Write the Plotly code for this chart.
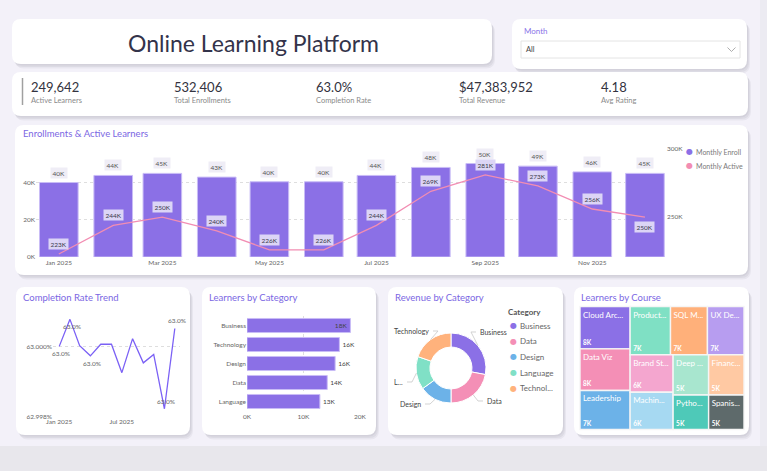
import math
import plotly.graph_objects as go

W, H = 767, 471
FONT = "Lato, 'Segoe UI', sans-serif"

# ---------------- data ----------------
months = ["2025-01-01", "2025-02-01", "2025-03-01", "2025-04-01", "2025-05-01", "2025-06-01",
          "2025-07-01", "2025-08-01", "2025-09-01", "2025-10-01", "2025-11-01", "2025-12-01"]
monthly_enroll = [40000, 43800, 44900, 42900, 40400, 40400, 43800, 48100, 50200, 48800, 45700, 44900]
monthly_active = [223000, 244000, 250000, 240000, 226000, 226000, 244000, 269000, 281000, 273000, 256000, 250000]

completion_rate = [63.0000, 63.00077, 63.00002, 62.99973, 63.00006, 63.00006,
                   62.99925, 63.00022, 62.99953, 62.99977, 62.99822, 63.00051]
completion_labelled = [0, 1, 3, 10, 11]

categories = ["Business", "Technology", "Design", "Data", "Language"]
category_learners = [18300, 16350, 15600, 14200, 12900]

rev_categories = ["Business", "Data", "Design", "Language", "Technology"]
rev_values = [13270000, 10420000, 7110000, 7240000, 9343952]

courses = ["Cloud Arc...", "Data Viz", "Leadership", "Product...", "SQL M...", "UX De...",
           "Brand St...", "Machin...", "Deep ...", "Financ...", "Pytho...", "Spanis..."]
course_learners = [8040, 7890, 7400, 7380, 6750, 6680, 6080, 6070, 5400, 5380, 4640, 4620]

kpi_values = ["249,642", "532,406", "63.0%", "$47,383,952", "4.18"]
kpi_labels = ["Active Learners", "Total Enrollments", "Completion Rate", "Total Revenue", "Avg Rating"]

series_names = ["Monthly Enroll", "Monthly Active"]

# ---------------- styles ----------------
PURPLE = "#8b70e6"
PINK = "#f28db3"
TITLE_PURPLE = "#7b67e3"
rev_colors = ["#8b70e6", "#f48fb6", "#6cb2e8", "#80e0c6", "#ffb27c"]
course_colors = ["#8b70e6", "#f48fb6", "#6cb2e8", "#7fe0c4", "#ffb07a", "#b79df0",
                 "#f4a6cf", "#a6d9f2", "#a8e6cf", "#ffc9a3", "#4ec9b8", "#5e6a6b"]


def fx(x):
    return x / W


def fy(y):
    return 1 - y / H


def P(x, y):
    return f"{fx(x):.5f},{fy(y):.5f}"


def rrect(x0, y0, x1, y1, r):
    return (f"M{P(x0 + r, y0)} L{P(x1 - r, y0)} Q{P(x1, y0)} {P(x1, y0 + r)} "
            f"L{P(x1, y1 - r)} Q{P(x1, y1)} {P(x1 - r, y1)} L{P(x0 + r, y1)} "
            f"Q{P(x0, y1)} {P(x0, y1 - r)} L{P(x0, y0 + r)} Q{P(x0, y0)} {P(x0 + r, y0)} Z")


shapes = []
annotations = []

# page strips
shapes.append(dict(type="rect", xref="paper", yref="paper", x0=0, x1=1, y0=0, y1=fy(446),
                   fillcolor="#e8e7ec", line_width=0, layer="below"))
shapes.append(dict(type="rect", xref="paper", yref="paper", x0=fx(760), x1=1, y0=fy(446), y1=1,
                   fillcolor="#ecebf2", line_width=0, layer="below"))

cards = [(12, 19, 492, 64), (512, 19, 747, 69), (12, 72, 748, 116), (15, 125, 748, 275),
         (16, 287, 190, 435), (202, 287, 376, 435), (388, 287, 563, 435), (574, 287, 749, 435)]
for (x0, y0, x1, y1) in cards:
    for dx, dy, a in [(1, 1.5, 0.06), (2, 3, 0.07), (3, 4.5, 0.06)]:
        shapes.append(dict(type="path", xref="paper", yref="paper",
                           path=rrect(x0 + dx, y0 + dy, x1 + dx, y1 + dy, 9),
                           fillcolor=f"rgba(70,70,90,{a})", line_width=0, layer="below"))
    shapes.append(dict(type="path", xref="paper", yref="paper", path=rrect(x0, y0, x1, y1, 9),
                       fillcolor="white", line_width=0, layer="below"))


def txt(x, y, s, size, color, xanchor="left", yanchor="middle", family=FONT):
    annotations.append(dict(xref="paper", yref="paper", x=fx(x), y=fy(y), text=s, showarrow=False,
                            xanchor=xanchor, yanchor=yanchor,
                            font=dict(size=size, color=color, family=family)))


def dot(x, y, color, size=8):
    txt(x, y, "●", size, color, xanchor="center", family="DejaVu Sans")


# title
txt(253.5, 43, "Online Learning Platform", 23, "#33334a", xanchor="center")
# month slicer
txt(522, 31, "Month", 8, "#8a74e8")
shapes.append(dict(type="rect", xref="paper", yref="paper", x0=fx(521), x1=fx(740), y0=fy(58), y1=fy(41),
                   line=dict(color="#e4e4e4", width=1), fillcolor="white", layer="below"))
txt(524, 50, "All", 7.5, "#444")
shapes.append(dict(type="path", xref="paper", yref="paper",
                   path=f"M{P(727.5, 47.5)} L{P(731.5, 51.5)} L{P(735.5, 47.5)}",
                   line=dict(color="#999", width=0.8)))

# KPIs
shapes.append(dict(type="line", xref="paper", yref="paper", x0=fx(22.5), x1=fx(22.5), y0=fy(105), y1=fy(78),
                   line=dict(color="#a0a0a0", width=1.5)))
for i, (v, l) in enumerate(zip(kpi_values, kpi_labels)):
    x = 29 + i * 142.5
    txt(x, 87, v, 13, "#333340")
    txt(x, 101, l, 7.5, "#8a8a8a")

# card titles
txt(21, 134, "Enrollments & Active Learners", 9.5, TITLE_PURPLE)
txt(21, 297, "Completion Rate Trend", 9.5, TITLE_PURPLE)
txt(207, 297, "Learners by Category", 9.5, TITLE_PURPLE)
txt(393, 297, "Revenue by Category", 9.5, TITLE_PURPLE)
txt(579, 297, "Learners by Course", 9.5, TITLE_PURPLE)

fig = go.Figure()

# ---------------- Enrollments & Active Learners ----------------
DAY = 86400000
fig.add_trace(go.Bar(x=months, y=monthly_enroll, width=22 * DAY, xaxis="x", yaxis="y", name=series_names[0],
                     marker=dict(color=PURPLE, line=dict(color="#c9bcf6", width=1)),
                     showlegend=False, hoverinfo="skip"))
fig.add_trace(go.Scatter(x=months, y=monthly_active, mode="lines", xaxis="x", yaxis="y2", name=series_names[1],
                         line=dict(color=PINK, width=1.3), showlegend=False, hoverinfo="skip"))
for k, (name, col) in enumerate(zip(series_names, [PURPLE, PINK])):
    yy = 151.5 + 14 * k
    dot(689, yy, col)
    txt(694, yy, name, 7, "#7a7a7a")

for m, v in zip(months, monthly_enroll):
    annotations.append(dict(x=m, y=v, xref="x", yref="y", text=f"{round(v / 1000)}K", showarrow=False,
                            yanchor="bottom", yshift=4, bgcolor="#efedf6", borderpad=1.5,
                            font=dict(size=6.5, color="#555", family=FONT)))
for i, (m, v) in enumerate(zip(months, monthly_active)):
    below = i == len(months) - 1
    annotations.append(dict(x=m, y=v, xref="x", yref="y2", text=f"{round(v / 1000)}K", showarrow=False,
                            yanchor="top" if below else "bottom", yshift=-4 if below else 4,
                            bgcolor="#dcd5f6", borderpad=1.5,
                            font=dict(size=6.5, color="#3a3a4a", family=FONT)))

# ---------------- Completion Rate Trend ----------------
fig.add_trace(go.Scatter(x=months, y=completion_rate, mode="lines", xaxis="x2", yaxis="y3",
                         line=dict(color="#7b61f5", width=1.3), showlegend=False, hoverinfo="skip"))
for i in completion_labelled:
    above = i >= 10
    annotations.append(dict(x=months[i], y=completion_rate[i], xref="x2", yref="y3",
                            text=f"{completion_rate[i]:.1f}%", showarrow=False,
                            yanchor="bottom" if above else "top", yshift=2 if above else -2, xshift=2,
                            font=dict(size=6.5, color="#666", family=FONT)))

# ---------------- Learners by Category ----------------
cat_max = 20000
fig.add_trace(go.Bar(y=categories, x=category_learners, orientation="h", width=0.74,
                     xaxis="x3", yaxis="y4", marker=dict(color=PURPLE, line=dict(color="#c9bcf6", width=1)),
                     text=[f"{round(v / 1000)}K" for v in category_learners],
                     textposition=["inside" if v / cat_max > 0.85 else "outside" for v in category_learners],
                     insidetextanchor="end", textangle=0, constraintext="none", cliponaxis=False,
                     textfont=dict(size=6.5, color="#444", family=FONT),
                     showlegend=False, hoverinfo="skip"))

# ---------------- Revenue by Category (donut) ----------------
cx, cy, R = 451, 368, 35
fig.add_trace(go.Pie(labels=rev_categories, values=rev_values, hole=0.6, sort=False,
                     direction="clockwise", rotation=0, textinfo="none",
                     marker=dict(colors=rev_colors, line=dict(color="white", width=1)),
                     domain=dict(x=[fx(cx - R), fx(cx + R)], y=[fy(cy + R), fy(cy - R)]),
                     showlegend=False, hoverinfo="skip"))

# legend (Category)
txt(506, 312, "<b>Category</b>", 8, "#555")
for k, (c, col) in enumerate(zip(rev_categories, rev_colors)):
    yy = 325.5 + 15.7 * k
    dot(513, yy, col)
    txt(518, yy, c if len(c) <= 8 else c[:7] + "...", 8, "#666")

pie_label_pos = [(478, 332, "left"), (485, 401, "left"), (423, 404, "right"),
                 (405, 382, "right"), (431, 331, "right")]
total = sum(rev_values)
cum = 0
for c, v, (lx, ly, side) in zip(rev_categories, rev_values, pie_label_pos):
    mid = (cum + v / 2) / total * 2 * math.pi
    cum += v
    sx, sy = cx + R * math.sin(mid), cy - R * math.cos(mid)
    ex = lx - 2 if side == "left" else lx + 2
    shapes.append(dict(type="path", xref="paper", yref="paper",
                       path=f"M{P(sx, sy)} L{P(ex + (-5 if side == 'left' else 5), ly)} L{P(ex, ly)}",
                       line=dict(color="#c8c8c8", width=0.8)))
    label = c if c != "Language" else c[0] + "..."
    txt(lx, ly, label, 7, "#444", xanchor=side)

# ---------------- Learners by Course (treemap) ----------------
tm_domain = dict(x=[fx(580), fx(744)], y=[fy(429.5), fy(306.5)])
fig.add_trace(go.Treemap(labels=courses, parents=[""] * len(courses), values=course_learners,
                         sort=True, domain=tm_domain, branchvalues="remainder",
                         marker=dict(colors=course_colors, line=dict(color="#f5f5f5", width=1.4),
                                     pad=dict(t=0, l=0, r=0, b=0)),
                         tiling=dict(packing="squarify", squarifyratio=1, pad=0),
                         pathbar=dict(visible=False), textposition="top left",
                         texttemplate="%{label}", textfont=dict(size=8, color="white", family=FONT),
                         hoverinfo="skip"))
fig.add_trace(go.Treemap(labels=courses, parents=[""] * len(courses), values=course_learners,
                         sort=True, domain=tm_domain, branchvalues="remainder",
                         text=[f"{round(v / 1000)}K" for v in course_learners],
                         marker=dict(colors=["rgba(0,0,0,0)"] * len(courses),
                                     line=dict(color="rgba(0,0,0,0)", width=1.4),
                                     pad=dict(t=0, l=0, r=0, b=0)),
                         tiling=dict(packing="squarify", squarifyratio=1, pad=0),
                         pathbar=dict(visible=False), textposition="bottom left",
                         texttemplate="<b>%{text}</b>", textfont=dict(size=6.5, color="white", family=FONT),
                         hoverinfo="skip"))

# ---------------- layout ----------------
tickf = dict(size=6.5, color="#666", family=FONT)
fig.update_layout(
    width=W, height=H, autosize=False, margin=dict(l=0, r=0, t=0, b=0, autoexpand=False),
    paper_bgcolor="#f3f1f9", plot_bgcolor="rgba(0,0,0,0)", showlegend=False,
    font=dict(family=FONT), shapes=shapes, annotations=annotations,
    xaxis=dict(domain=[fx(36), fx(666)], type="date", range=["2024-12-19", "2025-12-13"],
               tickvals=months[::2], tickformat="%b %Y", tickfont=tickf, showgrid=False,
               zeroline=False, showline=False, ticks="", anchor="y"),
    yaxis=dict(domain=[fy(257), fy(149)], range=[0, 58000], tickvals=[0, 20000, 40000],
               ticktext=["0K", "20K", "40K"], tickfont=tickf, gridcolor="#dedede", griddash="dot",
               zeroline=False, showline=False, ticks="", anchor="x"),
    yaxis2=dict(overlaying="y", side="right", range=[220800, 300000], tickvals=[250000, 300000],
                ticktext=["250K", "300K"], tickfont=tickf, showgrid=False, zeroline=False,
                showline=False, ticks="", anchor="x"),
    xaxis2=dict(domain=[fx(53), fx(180)], type="date", range=["2024-12-14", "2025-12-16"],
                tickvals=["2025-01-01", "2025-07-01"], tickformat="%b %Y", tickfont=tickf,
                showgrid=False, zeroline=False, showline=False, ticks="", anchor="y3"),
    yaxis3=dict(domain=[fy(416.5), fy(312)], range=[62.998, 63.00098], tickvals=[62.998, 63.0],
                ticktext=["62.998%", "63.000%"], tickfont=tickf, gridcolor="#dedede", griddash="dot",
                zeroline=False, showline=False, ticks="", anchor="x2"),
    xaxis3=dict(domain=[fx(247), fx(360)], range=[0, cat_max], tickvals=[0, 10000, 20000],
                ticktext=["0K", "10K", "20K"], tickfont=tickf, gridcolor="#dedede", griddash="dot",
                zeroline=False, showline=False, ticks="", anchor="y4"),
    yaxis4=dict(domain=[fy(411), fy(316)], categoryorder="array", categoryarray=categories,
                autorange="reversed", tickfont=tickf, showgrid=False, zeroline=False,
                showline=False, ticks="", anchor="x3"),
)

fig.write_html("out.html")
